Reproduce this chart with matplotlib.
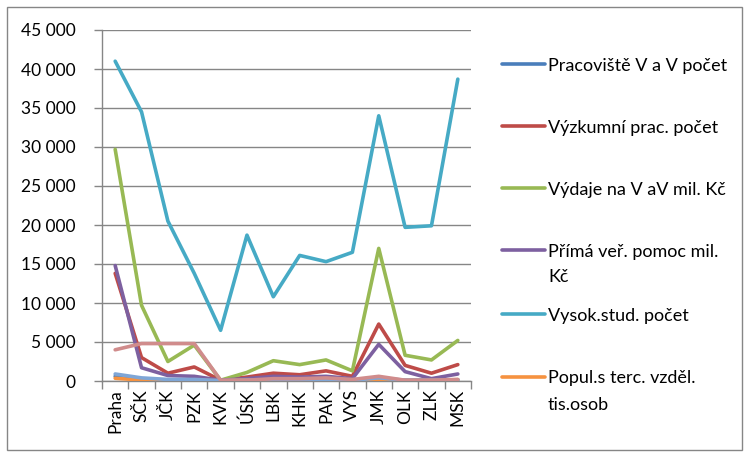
import matplotlib
matplotlib.use("Agg")
import matplotlib.pyplot as plt
from matplotlib.lines import Line2D
from matplotlib.patches import Rectangle
from matplotlib.ticker import FuncFormatter, MultipleLocator

plt.rcParams['font.family'] = ['Lato', 'DejaVu Sans']

regions = ["Praha", "SČK", "JČK", "PZK", "KVK", "ÚSK", "LBK", "KHK",
           "PAK", "VYS", "JMK", "OLK", "ZLK", "MSK"]

pracoviste = [600, 200, 150, 150, 50, 100, 100, 100, 100, 80, 300, 100, 100, 150]
vyzkumni = [13800, 3000, 1000, 1800, 100, 500, 1000, 800, 1300, 600, 7300, 2000, 1000, 2100]
vydaje = [29700, 9700, 2500, 4600, 100, 1100, 2600, 2100, 2700, 1300, 17000, 3300, 2700, 5200]
prima = [14800, 1700, 700, 600, 100, 300, 600, 500, 600, 300, 4700, 1200, 300, 900]
vysok = [41000, 34500, 20500, 13800, 6500, 18700, 10800, 16100, 15300, 16500, 34000, 19700, 19900, 38700]
popul = [350, 120, 90, 80, 40, 110, 60, 80, 70, 70, 180, 90, 80, 170]
extra_a = [900, 400, 200, 200, 50, 100, 150, 100, 150, 100, 400, 100, 100, 150]
extra_b = [4000, 4800, 4800, 4800, 100, 100, 300, 300, 400, 200, 600, 100, 100, 200]

series = [
    ("Pracoviště V a V počet", pracoviste, "#4A7EBB"),
    ("Výzkumní prac. počet", vyzkumni, "#BE4B48"),
    ("Výdaje na V aV mil. Kč", vydaje, "#98B954"),
    ("Přímá veř. pomoc mil.\nKč", prima, "#7D60A0"),
    ("Vysok.stud. počet", vysok, "#46AAC5"),
    ("Popul.s terc. vzděl.\ntis.osob", popul, "#F69240"),
    (None, extra_a, "#7FA6D6"),
    (None, extra_b, "#D08C8C"),
]

W, H = 749, 454
fig = plt.figure(figsize=(W / 100, H / 100), dpi=100)
ax = fig.add_axes([102 / W, 1 - 381 / H, (471 - 102) / W, (381 - 30) / H])

x = list(range(len(regions)))
grid_c = "#868686"
for name, vals, col in series:
    ax.plot(x, vals, color=col, lw=2.6, solid_joinstyle="round",
            solid_capstyle="round", zorder=3)

ax.set_xlim(-0.5, len(regions) - 0.5)
ax.set_ylim(0, 45000)
ax.yaxis.set_major_locator(MultipleLocator(5000))
ax.yaxis.set_major_formatter(FuncFormatter(lambda v, p: f"{int(v):,}".replace(",", " ")))
ax.grid(axis="y", color=grid_c, lw=1.0, zorder=1)
ax.set_axisbelow(True)
for s in ("top", "right"):
    ax.spines[s].set_visible(False)
for s in ("left", "bottom"):
    ax.spines[s].set_color(grid_c)
    ax.spines[s].set_linewidth(1.0)

ax.set_xticks(x)
ax.set_xticklabels(regions, rotation=90, fontsize=12.5)
ax.tick_params(axis="x", length=0, pad=6)
ax.set_xticks([i - 0.5 for i in range(len(regions) + 1)], minor=True)
ax.tick_params(axis="x", which="minor", length=6, color=grid_c, width=1)
ax.tick_params(axis="y", length=6, color=grid_c, width=1, labelsize=12.5, pad=13)

# legend drawn at the right of the plot, handle level with the first text line
leg_rows = [64, 126, 188, 250, 314, 377]
for (name, vals, col), yy in zip(series[:6], leg_rows):
    yf = 1 - yy / H
    fig.add_artist(Line2D([502 / W, 545 / W], [yf, yf], color=col, lw=2.6,
                          solid_capstyle="round"))
    fig.text(548 / W, 1 - (yy + 6.5) / H, name.split("\n")[0], fontsize=13,
             ha="left", va="baseline")
    if "\n" in name:
        fig.text(548 / W, 1 - (yy + 6.5 + 26) / H, name.split("\n")[1],
                 fontsize=13, ha="left", va="baseline")

fig.add_artist(Rectangle((7 / W, 1 - 450 / H), (742 - 7) / W, (450 - 7) / H,
                         transform=fig.transFigure, fill=False,
                         edgecolor=grid_c, lw=1.0))

fig.savefig("out.png", dpi=100)
